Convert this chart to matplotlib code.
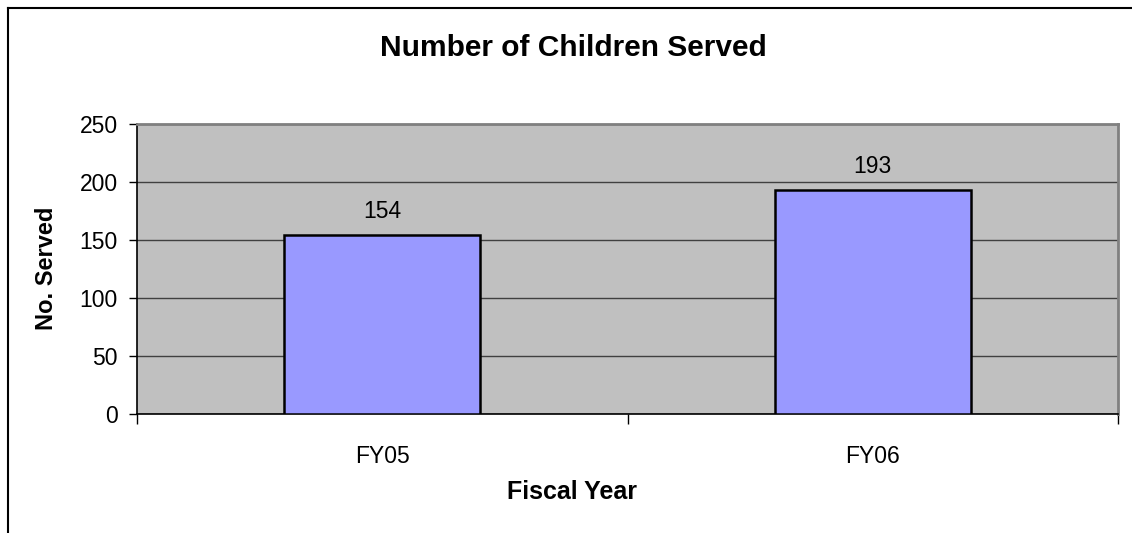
import matplotlib
matplotlib.use("Agg")
import matplotlib.pyplot as plt
from matplotlib.lines import Line2D

categories = ["FY05", "FY06"]
values = [154, 193]
yticks = [0, 50, 100, 150, 200, 250]

plt.rcParams['font.family'] = ['Liberation Sans', 'DejaVu Sans']

fig = plt.figure(figsize=(11.32, 5.33), dpi=100)
ax = fig.add_axes([137/1132, 119/533, (1118-137)/1132, (414-124)/533])
ax.set_facecolor('#C0C0C0')

x = list(range(len(categories)))
bars = ax.bar(x, values, width=0.4, color='#9999FF', edgecolor='black', linewidth=1.8, zorder=3)
for xi, v in zip(x, values):
    ax.annotate(str(v), (xi, v), xytext=(0, 9), textcoords='offset points',
                ha='center', va='bottom', fontsize=16.5)

ax.set_xlim(-0.5, len(categories) - 0.5)
ax.set_ylim(0, 250)
ax.set_yticks(yticks)
ax.tick_params(axis='y', direction='out', length=6, width=1, labelsize=16.5, pad=8)
ax.yaxis.grid(True, color='#404040', linewidth=1, zorder=1)
ax.set_axisbelow(True)

ax.set_xticks(x)
ax.set_xticklabels(categories)
ax.set_xticks([-0.5, 0.5, 1.5], minor=True)
ax.tick_params(axis='x', which='major', length=0, labelsize=16.5, pad=22)
ax.tick_params(axis='x', which='minor', direction='out', length=7, width=1)

for s in ['top', 'right']:
    ax.spines[s].set_color('#808080')
    ax.spines[s].set_linewidth(2)
for s in ['left', 'bottom']:
    ax.spines[s].set_color('black')
    ax.spines[s].set_linewidth(1.2)

fig.text(573/1132, 1 - 48/533, "Number of Children Served", ha='center', va='center',
         fontsize=21.5, fontweight='bold')
fig.text(572/1132, 1 - 492/533, "Fiscal Year", ha='center', va='center',
         fontsize=18, fontweight='bold')
fig.text(47/1132, 1 - 268/533, "No. Served", ha='center', va='center', rotation=90,
         fontsize=17, fontweight='bold')

# outer chart border (top and left visible)
fig.add_artist(Line2D([8/1132, 8/1132], [0, 1 - 8/533], transform=fig.transFigure, color='black', linewidth=1.5))
fig.add_artist(Line2D([8/1132, 1], [1 - 8/533, 1 - 8/533], transform=fig.transFigure, color='black', linewidth=1.5))

fig.savefig("out.png", dpi=100)
